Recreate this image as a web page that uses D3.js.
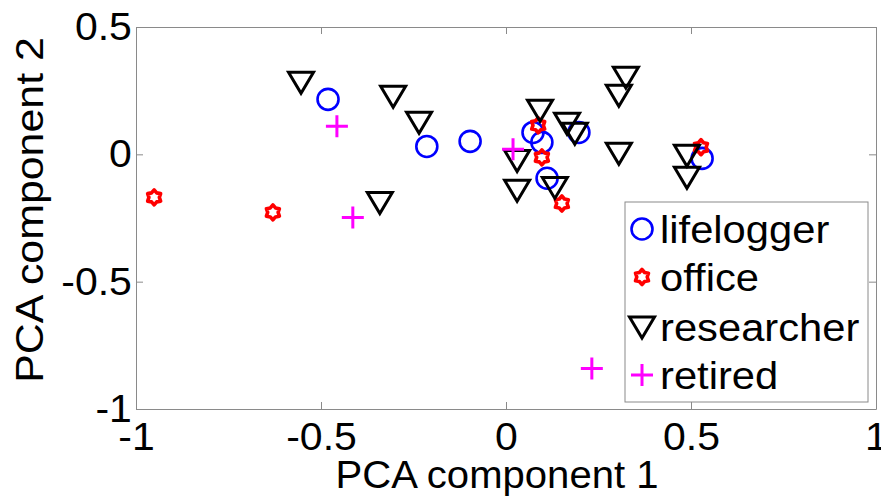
<!DOCTYPE html>
<html>
<head>
<meta charset="utf-8">
<script src="https://cdn.jsdelivr.net/npm/d3@7"></script>
<style>
  body { margin: 0; background: #fff; }
  text { font-family: "Liberation Sans", Arial, sans-serif; fill: #000; }
</style>
</head>
<body>
<div id="chart"></div>
<script>
// groups and their points [PCA1, PCA2]
const groups = ['lifelogger', 'office', 'researcher', 'retired'];
const lifelogger = [[-0.481,0.216],[-0.214,0.031],[-0.097,0.051],[0.073,0.086],[0.097,0.047],[0.111,-0.094],[0.197,0.086],[0.530,-0.016]];
const office = [[-0.951,-0.169],[-0.630,-0.228],[0.087,0.114],[0.097,-0.012],[0.151,-0.193],[0.527,0.028]];
const researcher = [[-0.554,0.283],[-0.305,0.228],[-0.235,0.126],[-0.341,-0.189],[0.092,0.173],[0.030,-0.024],[0.030,-0.141],
                    [0.132,-0.130],[0.165,0.122],[0.186,0.083],[0.324,0.303],[0.305,0.232],[0.305,0.004],[0.489,-0.004],[0.489,-0.090]];
const retired = [[-0.457,0.110],[-0.414,-0.248],[0.019,0.020],[0.232,-0.841]];
const seriesData = [lifelogger, office, researcher, retired];
const xTicks = [-1, -0.5, 0, 0.5, 1];
const xTickLabels = ['-1', '-0.5', '0', '0.5', '1'];
const yTicks = [-1, -0.5, 0, 0.5];
const yTickLabels = ['-1', '-0.5', '0', '0.5'];

const W = 881, H = 498;
const axisColor = '#8a8a8a';
const font = '"Liberation Sans", Arial, sans-serif';
const svg = d3.select('#chart').append('svg').attr('width', W).attr('height', H);

const x = d3.scaleLinear().domain([-1, 1]).range([136, 876]);
const y = d3.scaleLinear().domain([-1, 0.5]).range([409, 27]);

// marker drawers
function hexagram(R, r) {
  let pts = [];
  for (let k = 0; k < 12; k++) {
    let a = -Math.PI/2 + k*Math.PI/6;
    let rr = k % 2 == 0 ? R : r;
    pts.push([rr*Math.cos(a), rr*Math.sin(a)]);
  }
  return 'M' + pts.map(p => p[0].toFixed(2) + ',' + p[1].toFixed(2)).join('L') + 'Z';
}
const markers = {
  lifelogger: g => g.append('circle').attr('r', 10.5).attr('fill', 'none').attr('stroke', '#0000ff').attr('stroke-width', 2.6),
  office: g => g.append('path').attr('d', hexagram(7.5, 5.2)).attr('fill', 'none').attr('stroke', '#ff0000')
                .attr('stroke-width', 3.6).attr('stroke-linejoin', 'round'),
  researcher: g => g.append('path').attr('d', 'M-12.5,-10L12.5,-10L0,11Z').attr('fill', 'none').attr('stroke', '#000').attr('stroke-width', 3),
  retired: g => g.append('path').attr('d', 'M-11,0L11,0M0,-11L0,11').attr('fill', 'none').attr('stroke', '#ff00ff').attr('stroke-width', 3)
};

// axes (box with inward ticks)
function styleAxis(g) {
  g.selectAll('.domain').attr('stroke', axisColor);
  g.selectAll('.tick line').attr('stroke', axisColor);
}
svg.append('g').attr('transform', `translate(0,${y(-1)})`)
  .call(d3.axisBottom(x).tickValues(xTicks).tickSizeInner(-7).tickSizeOuter(0).tickPadding(13)
        .tickFormat((d, i) => xTickLabels[i]))
  .call(styleAxis)
  .selectAll('text').attr('font-size', 39).attr('font-family', font)
  .attr('fill', '#000').attr('transform', 'scale(1.05,1)');
svg.append('g').attr('transform', `translate(0,${y(0.5)})`)
  .call(d3.axisTop(x).tickValues(xTicks).tickSizeInner(-7).tickSizeOuter(0).tickFormat(''))
  .call(styleAxis);
svg.append('g').attr('transform', `translate(${x(-1)},0)`)
  .call(d3.axisLeft(y).tickValues(yTicks).tickSizeInner(-7).tickSizeOuter(0).tickPadding(4)
        .tickFormat((d, i) => yTickLabels[i]))
  .call(styleAxis)
  .selectAll('text').attr('font-size', 39).attr('font-family', font)
  .attr('fill', '#000').attr('transform', 'scale(1.05,1)');
svg.append('g').attr('transform', `translate(${x(1)},0)`)
  .call(d3.axisRight(y).tickValues(yTicks).tickSizeInner(-7).tickSizeOuter(0).tickFormat(''))
  .call(styleAxis);

// axis labels
svg.append('text').attr('transform', `translate(497,488) scale(1.055,1)`)
  .attr('text-anchor', 'middle').attr('font-size', 38).text('PCA component 1');
svg.append('text').attr('transform', `translate(43,210) rotate(-90) scale(1.1,1)`)
  .attr('text-anchor', 'middle').attr('font-size', 39).text('PCA component 2');

// points
groups.forEach((name, gi) => {
  let layer = svg.append('g').attr('class', name);
  seriesData[gi].forEach(d => {
    let g = layer.append('g').attr('transform', `translate(${x(d[0])},${y(d[1])})`);
    markers[name](g);
  });
});

// legend
const legend = svg.append('g').attr('class', 'legend');
legend.append('rect').attr('x', 625).attr('y', 202).attr('width', 243).attr('height', 200)
  .attr('fill', '#fff').attr('stroke', axisColor).attr('stroke-width', 1);
const legendBase = [243, 291, 341, 389];
groups.forEach((name, i) => {
  let m = legend.append('g').attr('transform', `translate(642,${legendBase[i] - 14})`);
  markers[name](m);
  legend.append('text').attr('transform', `translate(660,${legendBase[i]}) scale(1.07,1)`)
    .attr('font-size', 39).text(name);
});
</script>
</body>
</html>
